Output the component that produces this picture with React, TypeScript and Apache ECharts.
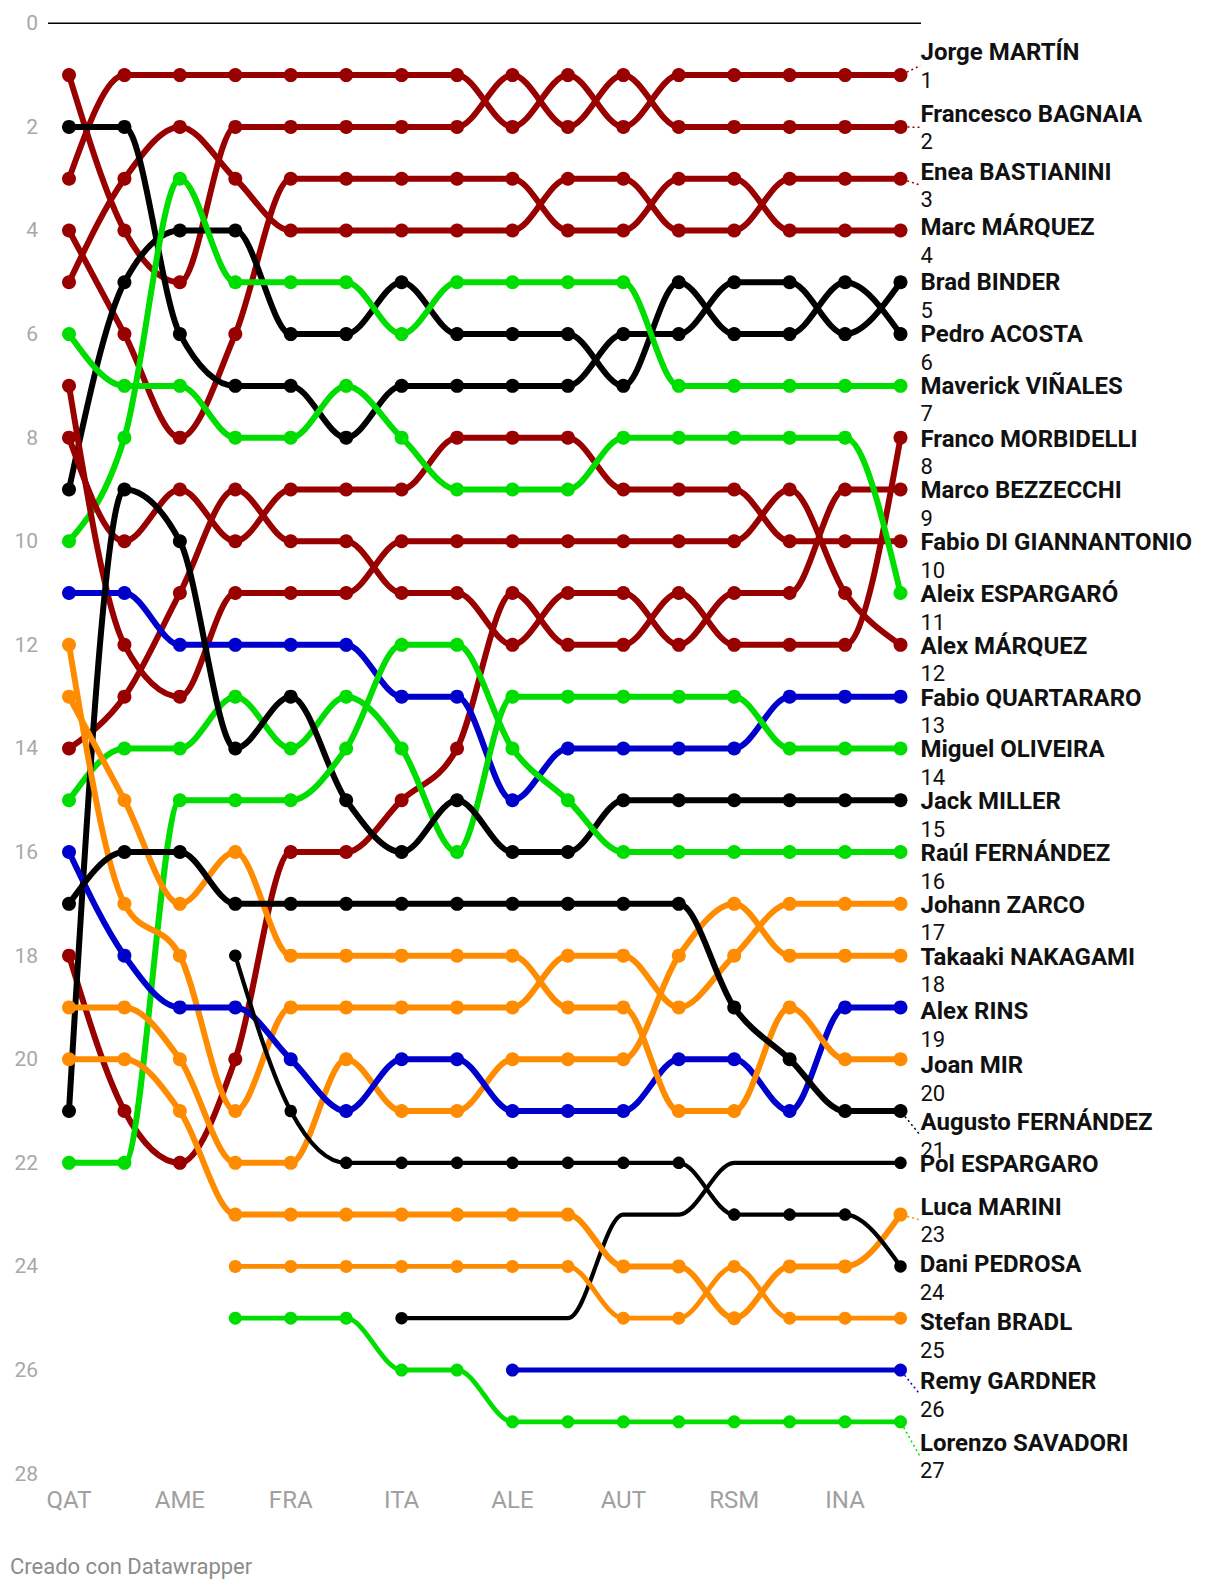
import React, { useEffect, useRef } from "react";
import * as echarts from "echarts";

// ---------- DATA ----------
const races = ["QAT", "POR", "AME", "ESP", "FRA", "CAT", "ITA", "NED", "ALE", "GBR", "AUT", "ARA", "RSM", "EMI", "INA", "JPN"];
const yMin = 0;
const yMax = 28;
const yStep = 2;

const N = null;
const martin = [3, 1, 1, 1, 1, 1, 1, 1, 2, 1, 2, 1, 1, 1, 1, 1];
const bagnaia = [1, 4, 5, 2, 2, 2, 2, 2, 1, 2, 1, 2, 2, 2, 2, 2];
const bastianini = [5, 3, 2, 3, 4, 4, 4, 4, 4, 3, 3, 4, 4, 3, 3, 3];
const marcMarquez = [4, 6, 8, 6, 3, 3, 3, 3, 3, 4, 4, 3, 3, 4, 4, 4];
const binder = [2, 2, 6, 7, 7, 8, 7, 7, 7, 7, 6, 6, 5, 5, 6, 5];
const acosta = [9, 5, 4, 4, 6, 6, 5, 6, 6, 6, 7, 5, 6, 6, 5, 6];
const vinales = [10, 8, 3, 5, 5, 5, 6, 5, 5, 5, 5, 7, 7, 7, 7, 7];
const morbidelli = [18, 21, 22, 20, 16, 16, 15, 14, 11, 12, 12, 11, 12, 12, 12, 8];
const bezzecchi = [14, 13, 11, 9, 10, 10, 11, 11, 12, 11, 11, 12, 11, 11, 9, 9];
const diGiannantonio = [8, 10, 9, 10, 9, 9, 9, 8, 8, 8, 9, 9, 9, 10, 10, 10];
const aleixEspargaro = [6, 7, 7, 8, 8, 7, 8, 9, 9, 9, 8, 8, 8, 8, 8, 11];
const alexMarquez = [7, 12, 13, 11, 11, 11, 10, 10, 10, 10, 10, 10, 10, 9, 11, 12];
const quartararo = [11, 11, 12, 12, 12, 12, 13, 13, 15, 14, 14, 14, 14, 13, 13, 13];
const oliveira = [15, 14, 14, 13, 14, 13, 14, 16, 13, 13, 13, 13, 13, 14, 14, 14];
const miller = [21, 9, 10, 14, 13, 15, 16, 15, 16, 16, 15, 15, 15, 15, 15, 15];
const raulFernandez = [22, 22, 15, 15, 15, 14, 12, 12, 14, 15, 16, 16, 16, 16, 16, 16];
const zarco = [12, 17, 18, 21, 19, 19, 19, 19, 19, 18, 18, 19, 18, 17, 17, 17];
const nakagami = [19, 19, 20, 22, 22, 20, 21, 21, 20, 20, 20, 18, 17, 18, 18, 18];
const rins = [16, 18, 19, 19, 20, 21, 20, 20, 21, 21, 21, 20, 20, 21, 19, 19];
const mir = [13, 15, 17, 16, 18, 18, 18, 18, 18, 19, 19, 21, 21, 19, 20, 20];
const augustoFernandez = [17, 16, 16, 17, 17, 17, 17, 17, 17, 17, 17, 17, 19, 20, 21, 21];
const polEspargaro = [N, N, N, N, N, N, 25, 25, 25, 25, 23, 23, 22, 22, 22, 22];
const marini = [20, 20, 21, 23, 23, 23, 23, 23, 23, 23, 24, 24, 25, 24, 24, 23];
const pedrosa = [N, N, N, 18, 21, 22, 22, 22, 22, 22, 22, 22, 23, 23, 23, 24];
const bradl = [N, N, N, 24, 24, 24, 24, 24, 24, 24, 25, 25, 24, 25, 25, 25];
const gardner = [N, N, N, N, N, N, N, N, 26, 26, 26, 26, 26, 26, 26, 26];
const savadori = [N, N, N, 25, 25, 25, 26, 26, 27, 27, 27, 27, 27, 27, 27, 27];

const riderNames = [
  "Jorge MARTÍN", "Francesco BAGNAIA", "Enea BASTIANINI", "Marc MÁRQUEZ", "Brad BINDER",
  "Pedro ACOSTA", "Maverick VIÑALES", "Franco MORBIDELLI", "Marco BEZZECCHI", "Fabio DI GIANNANTONIO",
  "Aleix ESPARGARÓ", "Alex MÁRQUEZ", "Fabio QUARTARARO", "Miguel OLIVEIRA", "Jack MILLER",
  "Raúl FERNÁNDEZ", "Johann ZARCO", "Takaaki NAKAGAMI", "Alex RINS", "Joan MIR",
  "Augusto FERNÁNDEZ", "Pol ESPARGARO", "Luca MARINI", "Dani PEDROSA", "Stefan BRADL",
  "Remy GARDNER", "Lorenzo SAVADORI",
];
const riderData = [
  martin, bagnaia, bastianini, marcMarquez, binder,
  acosta, vinales, morbidelli, bezzecchi, diGiannantonio,
  aleixEspargaro, alexMarquez, quartararo, oliveira, miller,
  raulFernandez, zarco, nakagami, rins, mir,
  augustoFernandez, polEspargaro, marini, pedrosa, bradl,
  gardner, savadori,
];
const riderBrand = [
  "ducati", "ducati", "ducati", "ducati", "ktm",
  "ktm", "aprilia", "ducati", "ducati", "ducati",
  "aprilia", "ducati", "yamaha", "aprilia", "ktm",
  "aprilia", "honda", "honda", "yamaha", "honda",
  "ktm", "ktm", "honda", "ktm", "honda",
  "yamaha", "aprilia",
];

// ---------- STYLE ----------
const brandColor: Record<string, string> = {
  ducati: "#990000",
  aprilia: "#00dd00",
  ktm: "#000000",
  yamaha: "#0000cc",
  honda: "#ff8c00",
};
const thinLine = new Set(["Pol ESPARGARO", "Dani PEDROSA"]);
const mediumLine = new Set(["Stefan BRADL", "Remy GARDNER", "Lorenzo SAVADORI"]);
const endDotsOnly = new Set(["Pol ESPARGARO", "Remy GARDNER"]);
const noNumber = new Set(["Pol ESPARGARO"]);
// vertical shift of the name line relative to the last point (px)
const nameShift: Record<string, number> = {
  "Jorge MARTÍN": -23, "Francesco BAGNAIA": -13, "Enea BASTIANINI": -7, "Marc MÁRQUEZ": -3,
  "Franco MORBIDELLI": 1, "Marco BEZZECCHI": 1, "Fabio DI GIANNANTONIO": 1, "Aleix ESPARGARÓ": 1,
  "Alex MÁRQUEZ": 1, "Fabio QUARTARARO": 1, "Miguel OLIVEIRA": 1, "Jack MILLER": 1,
  "Raúl FERNÁNDEZ": 1, "Johann ZARCO": 1,
  "Takaaki NAKAGAMI": 1, "Alex RINS": 4, "Joan MIR": 6, "Augusto FERNÁNDEZ": 11,
  "Pol ESPARGARO": 1, "Luca MARINI": -8, "Dani PEDROSA": -2, "Stefan BRADL": 4,
  "Remy GARDNER": 11, "Lorenzo SAVADORI": 21,
};
const showConnector = new Set([
  "Jorge MARTÍN", "Francesco BAGNAIA", "Enea BASTIANINI", "Augusto FERNÁNDEZ",
  "Luca MARINI", "Remy GARDNER", "Lorenzo SAVADORI",
]);

const W = 1220;
const H = 1590;
const GRID = { left: 69, right: 319.5, top: 23.3, bottom: 116.4 };
const FONT = "Roboto, 'Noto Sans', sans-serif";

function monotonePath(pts: number[][]): string {
  const n = pts.length;
  if (n === 0) return "";
  const xs = pts.map((p) => p[0]);
  const ys = pts.map((p) => p[1]);
  let d = `M${xs[0]},${ys[0]}`;
  if (n === 1) return d;
  if (n === 2) return d + `L${xs[1]},${ys[1]}`;
  const t = new Array(n).fill(0);
  for (let i = 1; i < n - 1; i++) {
    const h0 = xs[i] - xs[i - 1];
    const h1 = xs[i + 1] - xs[i];
    const s0 = (ys[i] - ys[i - 1]) / h0;
    const s1 = (ys[i + 1] - ys[i]) / h1;
    const p = (s0 * h1 + s1 * h0) / (h0 + h1);
    t[i] = (Math.sign(s0) + Math.sign(s1)) * Math.min(Math.abs(s0), Math.abs(s1), 0.5 * Math.abs(p)) || 0;
  }
  t[0] = (3 * (ys[1] - ys[0]) / (xs[1] - xs[0]) - t[1]) / 2;
  t[n - 1] = (3 * (ys[n - 1] - ys[n - 2]) / (xs[n - 1] - xs[n - 2]) - t[n - 2]) / 2;
  for (let i = 0; i < n - 1; i++) {
    const dx = (xs[i + 1] - xs[i]) / 3;
    d += `C${xs[i] + dx},${ys[i] + dx * t[i]},${xs[i + 1] - dx},${ys[i + 1] - dx * t[i + 1]},${xs[i + 1]},${ys[i + 1]}`;
  }
  return d;
}

function buildOption() {
  const series: any[] = [];
  riderNames.forEach((name, r) => {
    const color = brandColor[riderBrand[r]];
    const values = riderData[r];
    const pts: number[][] = [];
    values.forEach((v, i) => {
      if (v !== null && v !== undefined) pts.push([i, v as number]);
    });
    const lw = thinLine.has(name) ? 4.2 : mediumLine.has(name) ? 4.8 : 6;
    const ds = thinLine.has(name) ? 12.5 : mediumLine.has(name) ? 13 : 14;

    series.push({
      type: "custom",
      name: name + " line",
      coordinateSystem: "cartesian2d",
      data: pts,
      encode: { x: 0, y: 1 },
      z: 2,
      silent: true,
      renderItem: (params: any, api: any) => {
        if (params.dataIndex !== 0) return null;
        const px = pts.map((p) => api.coord(p));
        return {
          type: "path",
          shape: { pathData: monotonePath(px) },
          style: { fill: "none", stroke: color, lineWidth: lw, lineCap: "round", lineJoin: "round" },
        };
      },
    });

    const dotPts = endDotsOnly.has(name) ? [pts[0], pts[pts.length - 1]] : pts;
    const last = pts[pts.length - 1];
    const shift = nameShift[name] || 0;
    const withNum = !noNumber.has(name);
    const dy = withNum ? shift + 14 : shift;
    const dotData = dotPts.map((p, i) => {
      if (i !== dotPts.length - 1) return { value: p };
      return {
        value: p,
        label: {
          show: true,
          position: "right",
          distance: 13,
          formatter: withNum ? `{n|${name}}\n{p|${last[1]}}` : `{n|${name}}`,
          rich: {
            n: { fontFamily: FONT, fontWeight: "bold", fontSize: 24, color: "#111", lineHeight: 28 },
            p: { fontFamily: FONT, fontWeight: "normal", fontSize: 22, color: "#111", lineHeight: 28 },
          },
        },
      };
    });
    const lastIdx = dotData.length - 1;
    series.push({
      type: "scatter",
      name,
      data: dotData,
      symbol: "circle",
      symbolSize: ds,
      itemStyle: { color, opacity: 1 },
      z: 3,
      silent: true,
      label: { show: false },
      labelLayout: (p: any) => (p.dataIndex === lastIdx ? { dy } : {}),
      labelLine: {
        show: showConnector.has(name),
        lineStyle: { color, width: 1.5, type: [2, 3] },
      },
    });
  });

  return {
    animation: false,
    backgroundColor: "#ffffff",
    grid: GRID,
    xAxis: {
      type: "category",
      data: races,
      boundaryGap: false,
      axisLine: { show: false },
      axisTick: { show: false },
      splitLine: { show: false },
      axisLabel: { interval: 1, color: "#a0a0a0", fontSize: 24, fontFamily: FONT, margin: 14 },
    },
    yAxis: {
      type: "value",
      inverse: true,
      min: yMin,
      max: yMax,
      interval: yStep,
      axisLine: { show: false },
      axisTick: { show: false },
      splitLine: { show: false },
      axisLabel: { color: "#a8a8a8", fontSize: 21, fontFamily: FONT, margin: 31 },
    },
    graphic: [
      {
        type: "line",
        silent: true,
        shape: { x1: 48, y1: GRID.top, x2: 921, y2: GRID.top },
        style: { stroke: "#000", lineWidth: 1.5 },
        z: 1,
      },
      {
        type: "text",
        left: 10,
        top: 1555,
        silent: true,
        style: { text: "Creado con Datawrapper", fill: "#8c8c8c", fontSize: 22, fontFamily: FONT },
      },
    ],
    series,
  };
}

export default function App() {
  const ref = useRef<HTMLDivElement>(null);
  useEffect(() => {
    if (!ref.current) return;
    const chart = echarts.init(ref.current, undefined, { renderer: "svg" });
    chart.setOption(buildOption() as any);
    return () => chart.dispose();
  }, []);
  return (
    <div
      ref={ref}
      style={{ position: "absolute", left: 0, top: 0, width: W, height: H, background: "#fff" }}
    />
  );
}
